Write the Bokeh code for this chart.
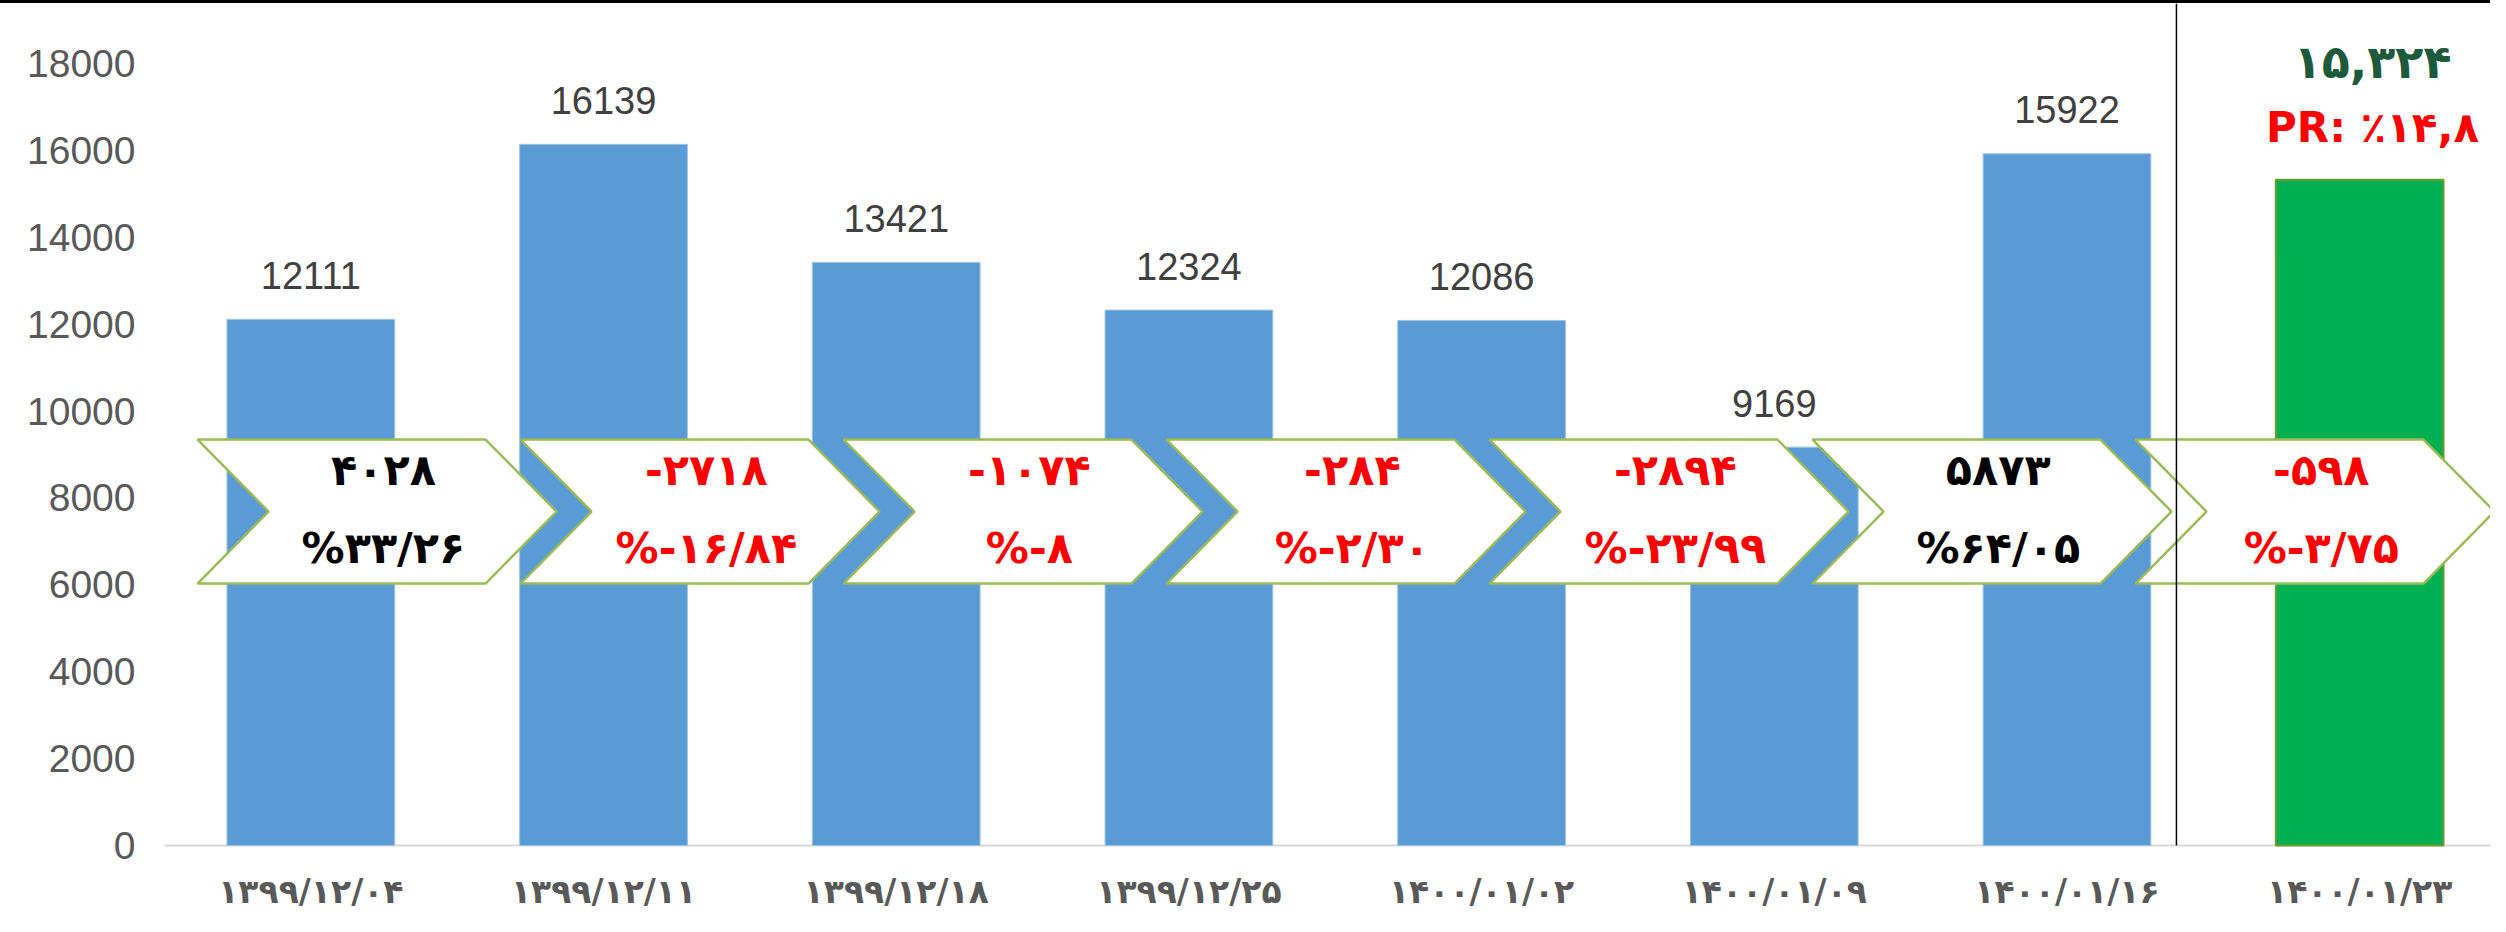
from bokeh.plotting import figure
from bokeh.models import Range1d, FixedTicker, ColumnDataSource, Span
from bokeh.core.properties import value
from bokeh.embed import file_html
from bokeh.resources import INLINE

# ---- data ----
dates = ["۱۳۹۹/۱۲/۰۴", "۱۳۹۹/۱۲/۱۱", "۱۳۹۹/۱۲/۱۸", "۱۳۹۹/۱۲/۲۵",
         "۱۴۰۰/۰۱/۰۲", "۱۴۰۰/۰۱/۰۹", "۱۴۰۰/۰۱/۱۶", "۱۴۰۰/۰۱/۲۳"]
values = [12111, 16139, 13421, 12324, 12086, 9169, 15922, 15324]
bar_labels = ["12111", "16139", "13421", "12324", "12086", "9169", "15922"]
change_abs = ["۴۰۲۸", "-۲۷۱۸", "-۱۰۷۴", "-۲۸۴", "-۲۸۹۴", "۵۸۷۳", "-۵۹۸"]
change_pct = ["%۳۳/۲۶", "%-۱۶/۸۴", "%-۸", "%-۲/۳۰", "%-۲۳/۹۹", "%۶۴/۰۵", "%-۳/۷۵"]
last_value_label = "۱۵,۳۲۴"
last_pr_label = "PR: ٪۱۴,۸"
y_ticks = [0, 2000, 4000, 6000, 8000, 10000, 12000, 14000, 16000, 18000]

n = len(dates)
xs = [i + 0.5 for i in range(n)]
Y_TOP, Y_BOTTOM = 19381, -1611

p = figure(width=2490, height=912, output_backend="svg", toolbar_location=None,
           x_range=Range1d(0, 7.947), y_range=Range1d(Y_BOTTOM, Y_TOP),
           min_border_left=164, min_border_right=0, min_border_top=0, min_border_bottom=0)
p.styles = {"border-top": "3px solid #000000"}
p.outline_line_color = None
p.xgrid.visible = False
p.ygrid.visible = False
p.background_fill_color = "white"
p.border_fill_color = "white"

# baseline
p.add_layout(Span(location=0, dimension="width", line_color="#d9d9d9", line_width=2, level="underlay"))

# bars
blue_src = ColumnDataSource(dict(x=xs[:-1], top=values[:-1]))
p.vbar(x="x", top="top", width=0.573, source=blue_src,
       fill_color="#5b9bd5", line_color="#9dc3e6", line_width=1)
p.vbar(x=[xs[-1]], top=[values[-1]], width=0.573,
       fill_color="#00b050", line_color="#6f9a30", line_width=2)

# value labels
p.text(x=xs[:-1], y=values[:-1], text=bar_labels, y_offset=-44,
       text_align="center", text_baseline="middle",
       text_font=value("Liberation Sans"), text_font_size="38px", text_color="#404040")

# category labels (x axis)
p.text(x=xs, y=[0] * n, text=dates, y_offset=46,
       text_align="center", text_baseline="middle",
       text_font=value("DejaVu Sans"), text_font_style="bold", text_font_size="33px",
       text_color="#595959")

# chevrons
left0, step, w, d = 0.113, 1.1035, 1.2265, 0.2426
ybot, ytop = 6030, 9345
ymid = (ybot + ytop) / 2
cx, cy = [], []
tx = []
for i in range(len(change_abs)):
    x0 = left0 + step * i
    cx.append([x0, x0 + w - d, x0 + w, x0 + w - d, x0, x0 + d])
    cy.append([ytop, ytop, ymid, ybot, ybot, ymid])
    tx.append(x0 + 0.635)
p.patches(cx, cy, fill_color="white", line_color="#9bbb59", line_width=2.5)

colors = ["#000000" if not s.startswith("-") else "#ff0000" for s in change_abs]
p.text(x=tx, y=[8632] * len(tx), text=change_abs, text_color=colors,
       text_align="center", text_baseline="middle",
       text_font=value("DejaVu Sans"), text_font_style="bold", text_font_size="43px")
p.text(x=tx, y=[6859] * len(tx), text=change_pct, text_color=colors,
       text_align="center", text_baseline="middle",
       text_font=value("DejaVu Sans"), text_font_style="bold", text_font_size="43px")

# separator line
p.segment(x0=[6.874], y0=[0], x1=[6.874], y1=[Y_TOP], line_color="#000000", line_width=1.5)

# last bar labels
p.text(x=[7.544], y=[18023], text=[last_value_label], text_color="#1d5a3c",
       text_align="center", text_baseline="middle",
       text_font=value("DejaVu Sans"), text_font_style="bold", text_font_size="46px")
p.text(x=[7.544], y=[16527], text=[last_pr_label], text_color="#ff0000",
       text_align="center", text_baseline="middle",
       text_font=value("DejaVu Sans"), text_font_style="bold", text_font_size="42px")

# axes
p.xaxis.visible = False
p.yaxis.ticker = FixedTicker(ticks=y_ticks)
p.yaxis.axis_line_color = None
p.yaxis.major_tick_line_color = None
p.yaxis.minor_tick_line_color = None
p.yaxis.major_label_standoff = 23
p.yaxis.major_label_text_font = "Liberation Sans"
p.yaxis.major_label_text_font_size = "39px"
p.yaxis.major_label_text_color = "#595959"

open("out.html", "w").write(file_html(p, INLINE))
